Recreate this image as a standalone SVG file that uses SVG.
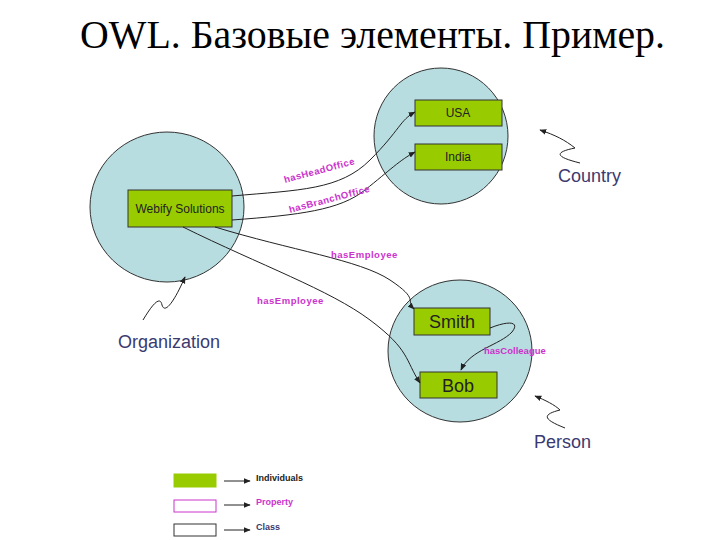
<svg xmlns="http://www.w3.org/2000/svg" width="720" height="540" viewBox="0 0 720 540">
<style>
.cls{fill:#b8dde0;stroke:#333;stroke-width:1}
.ind{fill:#99cc00;stroke:#333;stroke-width:1}
.it{font-family:"Liberation Sans",Arial,sans-serif;font-size:12px;fill:#222;text-anchor:middle}
.big{font-family:"Liberation Sans",Arial,sans-serif;font-size:18px;fill:#222;text-anchor:middle}
.cl{font-family:"Liberation Sans",Arial,sans-serif;font-size:18px;fill:#3a3a70}
.pr{font-family:"Liberation Sans",Arial,sans-serif;font-size:9.5px;font-weight:bold;fill:#cc33cc;letter-spacing:0.5px}
.lg{font-family:"Liberation Sans",Arial,sans-serif;font-size:9px;font-weight:bold}
.ln{fill:none;stroke:#222;stroke-width:1}
</style>
<defs><marker id="a" viewBox="0 0 10 10" refX="9" refY="5" markerWidth="7" markerHeight="7" orient="auto"><path d="M0,1 L10,5 L0,9z" fill="#222"/></marker></defs>
<text x="80" y="48" font-family="Liberation Serif,serif" font-size="39" textLength="585" lengthAdjust="spacingAndGlyphs" fill="#000">OWL. Базовые элементы. Пример.</text>
<g id="org"><ellipse class="cls" cx="167" cy="207" rx="77" ry="75"/></g>
<g id="country"><ellipse class="cls" cx="441" cy="136" rx="67" ry="68"/></g>
<g id="person"><ellipse class="cls" cx="460" cy="351" rx="72" ry="71"/></g>
<g id="usa"><rect class="ind" x="415" y="100" width="87" height="26"/><text class="it" x="458" y="117">USA</text></g>
<g id="india"><rect class="ind" x="415" y="144" width="87" height="26"/><text class="it" x="458" y="161">India</text></g>
<g id="webify"><rect class="ind" x="128" y="190" width="104" height="37"/><text class="it" x="180" y="213">Webify Solutions</text></g>
<g id="smith"><rect class="ind" x="414" y="308" width="76" height="27"/><text class="big" x="452" y="328">Smith</text></g>
<g id="bob"><rect class="ind" x="420" y="372" width="77" height="26"/><text class="big" x="458" y="392">Bob</text></g>
<g id="connectors">
<path class="ln" marker-end="url(#a)" d="M232,196 C300,190 340,190 370,160 S400,120 415,112"/>
<path class="ln" marker-end="url(#a)" d="M232,220 C300,215 340,210 365,190 S400,160 415,152"/>
<path class="ln" marker-end="url(#a)" d="M215,227 C290,250 360,260 390,280 S405,300 414,309"/>
<path class="ln" marker-end="url(#a)" d="M183,227 C260,265 330,290 370,320 S405,360 420,383"/>
<path class="ln" marker-end="url(#a)" d="M490,328 C510,320 520,322 512,332 C500,345 470,350 461,370"/>
<path class="ln" marker-end="url(#a)" d="M580,163 C560,158 550,153 575,148 C565,140 555,135 540,130"/>
<path class="ln" marker-end="url(#a)" d="M143,320 C152,305 160,295 162,305 C165,315 175,300 185,277"/>
<path class="ln" marker-end="url(#a)" d="M565,428 C545,420 540,415 560,410 C555,405 545,400 535,396"/>
</g>
<text class="pr" transform="translate(285,183) rotate(-15)">hasHeadOffice</text>
<text class="pr" transform="translate(290,213) rotate(-15)">hasBranchOffice</text>
<text class="pr" x="331" y="258">hasEmployee</text>
<text class="pr" x="257" y="304">hasEmployee</text>
<text class="pr" x="484" y="354" style="letter-spacing:0">hasColleague</text>
<text class="cl" x="558" y="182">Country</text>
<text class="cl" x="118" y="348">Organization</text>
<text class="cl" x="534" y="448">Person</text>
<g id="legend">
<rect x="174" y="474" width="42" height="13" fill="#99cc00" stroke="#99cc00"/>
<rect x="174" y="500" width="42" height="12" fill="#fff" stroke="#cc33cc"/>
<rect x="174" y="524" width="42" height="12" fill="#fff" stroke="#333"/>
<path class="ln" marker-end="url(#a)" d="M224,481 H250"/>
<path class="ln" marker-end="url(#a)" d="M224,505 H250"/>
<path class="ln" marker-end="url(#a)" d="M224,530 H250"/>
<text class="lg" x="256" y="481" fill="#222">Individuals</text>
<text class="lg" x="256" y="505" fill="#cc33cc">Property</text>
<text class="lg" x="256" y="530" fill="#3a3a70">Class</text>
</g>
</svg>
